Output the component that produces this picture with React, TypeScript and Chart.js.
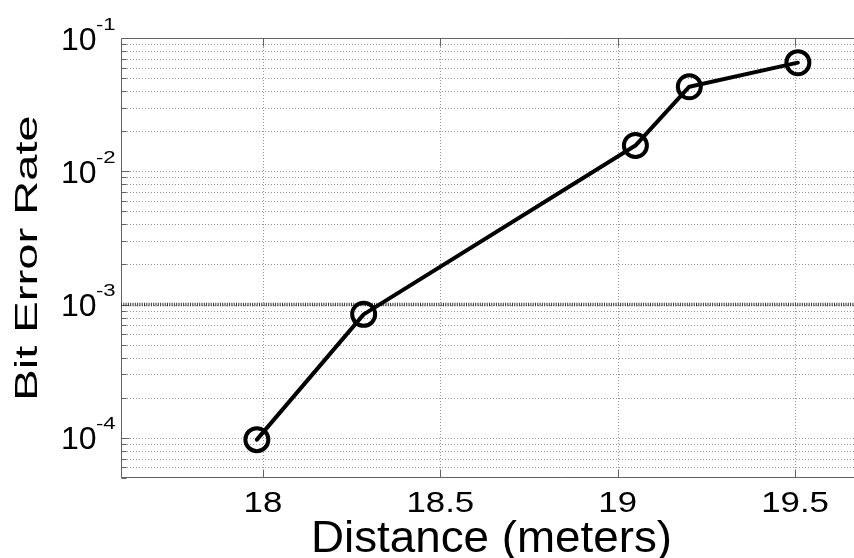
import React, { useEffect, useRef } from "react";
import { Chart, registerables } from "chart.js";

Chart.register(...registerables);

// Measured bit error rate versus link distance
const distanceMeters = [17.983, 18.284, 19.05, 19.202, 19.508];
const bitErrorRate = [9.7e-5, 8.45e-4, 0.0156, 0.0431, 0.0653];

// Target BER reference level
const thresholdBER = 1e-3;

// Axis limits and ticks
const xLimits = [17.6, 19.7];
const yLimits = [5e-5, 1e-1];
const xTickValues = [18, 18.5, 19, 19.5];
const xTickLabels = ["18", "18.5", "19", "19.5"];
const yDecadeExponents = [-4, -3, -2, -1];
const yMantissas = [1, 2, 3, 4, 5, 6, 7, 8, 9];

const xAxisTitle = "Distance (meters)";
const yAxisTitle = "Bit Error Rate";

const FONT = '"Liberation Sans", Arial, Helvetica, sans-serif';

// All 1..9 x 10^n positions inside the y limits (grid and minor ticks)
function logGridValues(): { value: number; major: boolean }[] {
  const out: { value: number; major: boolean }[] = [];
  const eMin = Math.floor(Math.log10(yLimits[0]));
  const eMax = Math.ceil(Math.log10(yLimits[1]));
  for (let e = eMin; e <= eMax; e++) {
    for (const m of yMantissas) {
      const v = m * Math.pow(10, e);
      if (v >= yLimits[0] * 0.999 && v <= yLimits[1] * 1.001) {
        out.push({ value: v, major: m === 1 });
      }
    }
  }
  return out;
}

// Text drawn with a horizontal stretch factor
function stretchedText(
  ctx: CanvasRenderingContext2D,
  text: string,
  x: number,
  y: number,
  sx: number,
  align: CanvasTextAlign
) {
  ctx.save();
  ctx.translate(x, y);
  ctx.scale(sx, 1);
  ctx.textAlign = align;
  ctx.fillText(text, 0, 0);
  ctx.restore();
}

const axesPlugin = {
  id: "matlabAxes",
  beforeDatasetsDraw(chart: any) {
    const { ctx, chartArea: a, scales } = chart;
    const xs = scales.x;
    const ys = scales.y;
    const farRight = chart.width;
    ctx.save();

    // dotted grid
    ctx.lineWidth = 1;
    ctx.strokeStyle = "#959595";
    ctx.setLineDash([1, 2]);
    for (const g of logGridValues()) {
      const py = Math.round(ys.getPixelForValue(g.value)) + 0.5;
      if (py <= a.top + 1 || py >= a.bottom - 1) continue;
      ctx.beginPath();
      ctx.moveTo(a.left, py);
      ctx.lineTo(farRight, py);
      ctx.stroke();
    }
    for (const v of xTickValues) {
      const px = Math.round(xs.getPixelForValue(v)) + 0.5;
      ctx.beginPath();
      ctx.moveTo(px, a.top);
      ctx.lineTo(px, a.bottom);
      ctx.stroke();
    }
    ctx.setLineDash([]);

    // axis lines (left, top, bottom)
    ctx.strokeStyle = "#626262";
    ctx.lineWidth = 1;
    const l = Math.round(a.left) + 0.5;
    const t = Math.round(a.top) + 0.5;
    const b = Math.round(a.bottom) - 0.5;
    ctx.beginPath();
    ctx.moveTo(farRight, t);
    ctx.lineTo(l, t);
    ctx.lineTo(l, b);
    ctx.lineTo(farRight, b);
    ctx.stroke();

    // inward tick marks
    ctx.beginPath();
    for (const g of logGridValues()) {
      const py = Math.round(ys.getPixelForValue(g.value)) + 0.5;
      const len = g.major ? 8 : 5;
      ctx.moveTo(l, py);
      ctx.lineTo(l + len, py);
    }
    for (const v of xTickValues) {
      const px = Math.round(xs.getPixelForValue(v)) + 0.5;
      ctx.moveTo(px, b);
      ctx.lineTo(px, b - 8);
      ctx.moveTo(px, t);
      ctx.lineTo(px, t + 8);
    }
    ctx.stroke();
    ctx.restore();
  },
  afterDraw(chart: any) {
    const { ctx, chartArea: a, scales } = chart;
    const xs = scales.x;
    const ys = scales.y;
    ctx.save();
    ctx.fillStyle = "#000";
    ctx.textBaseline = "alphabetic";

    // y tick labels: 10 with superscript exponent
    for (const e of yDecadeExponents) {
      const py = ys.getPixelForValue(Math.pow(10, e));
      ctx.font = `32px ${FONT}`;
      stretchedText(ctx, "10", 96.5, py + 11.5, 1, "right");
      ctx.font = `17px ${FONT}`;
      stretchedText(ctx, "-" + Math.abs(e), 96, py - 8.5, 1.3, "left");
    }

    // x tick labels
    ctx.font = `30px ${FONT}`;
    xTickValues.forEach((v, i) => {
      stretchedText(ctx, xTickLabels[i], xs.getPixelForValue(v), 512, 1.16, "center");
    });

    // x axis title
    ctx.font = `44px ${FONT}`;
    stretchedText(ctx, xAxisTitle, (a.left + a.right) / 2 - 2, 552, 1.04, "center");

    // y axis title (rotated)
    ctx.save();
    ctx.translate(37, (a.top + a.bottom) / 2);
    ctx.rotate(-Math.PI / 2);
    ctx.scale(1.52, 1);
    ctx.font = `31px ${FONT}`;
    ctx.textAlign = "center";
    ctx.fillText(yAxisTitle, 0, 0);
    ctx.restore();

    ctx.restore();
  },
};

export default function App() {
  const canvasRef = useRef<HTMLCanvasElement | null>(null);

  useEffect(() => {
    const canvas = canvasRef.current;
    if (!canvas) return;

    const series = distanceMeters.map((d, i) => ({ x: d, y: bitErrorRate[i] }));
    const threshold = xLimits.map((d) => ({ x: d, y: thresholdBER }));

    const chart = new Chart(canvas, {
      type: "scatter",
      data: {
        datasets: [
          {
            label: "BER",
            data: series,
            showLine: true,
            borderColor: "#000",
            borderWidth: 4,
            borderJoinStyle: "round",
            borderCapStyle: "round",
            pointStyle: "circle",
            pointRadius: 11.5,
            pointHoverRadius: 11.5,
            pointBorderWidth: 4,
            pointBorderColor: "#000",
            pointBackgroundColor: "rgba(0,0,0,0)",
            order: 0,
          },
          {
            label: "Threshold",
            data: threshold,
            showLine: true,
            borderColor: "#333333",
            borderWidth: 3.5,
            borderDash: [1, 1.3],
            pointRadius: 0,
            order: 1,
          },
        ],
      } as any,
      options: {
        responsive: false,
        devicePixelRatio: 1,
        animation: false,
        events: [],
        layout: { autoPadding: false, padding: { top: 38, left: 0, right: 134, bottom: 0 } },
        plugins: {
          legend: { display: false },
          title: { display: false },
          tooltip: { enabled: false },
        },
        scales: {
          x: {
            type: "linear",
            min: xLimits[0],
            max: xLimits[1],
            grid: { display: false },
            border: { display: false },
            ticks: { display: false },
            afterBuildTicks: (scale: any) => {
              scale.ticks = xTickValues.map((v) => ({ value: v }));
            },
            afterFit: (scale: any) => {
              scale.height = 80;
            },
          },
          y: {
            type: "logarithmic",
            min: yLimits[0],
            max: yLimits[1],
            grid: { display: false },
            border: { display: false },
            ticks: { display: false },
            afterBuildTicks: (scale: any) => {
              scale.ticks = logGridValues().map((g) => ({ value: g.value, major: g.major }));
            },
            afterFit: (scale: any) => {
              scale.width = 121;
            },
          },
        },
      } as any,
      plugins: [axesPlugin],
    });

    return () => chart.destroy();
  }, []);

  return (
    <div
      style={{
        position: "fixed",
        left: 0,
        top: 0,
        width: "100vw",
        height: "100vh",
        overflow: "hidden",
        background: "#fff",
      }}
    >
      <canvas ref={canvasRef} width={1000} height={558} style={{ display: "block", width: 1000, height: 558 }} />
    </div>
  );
}
